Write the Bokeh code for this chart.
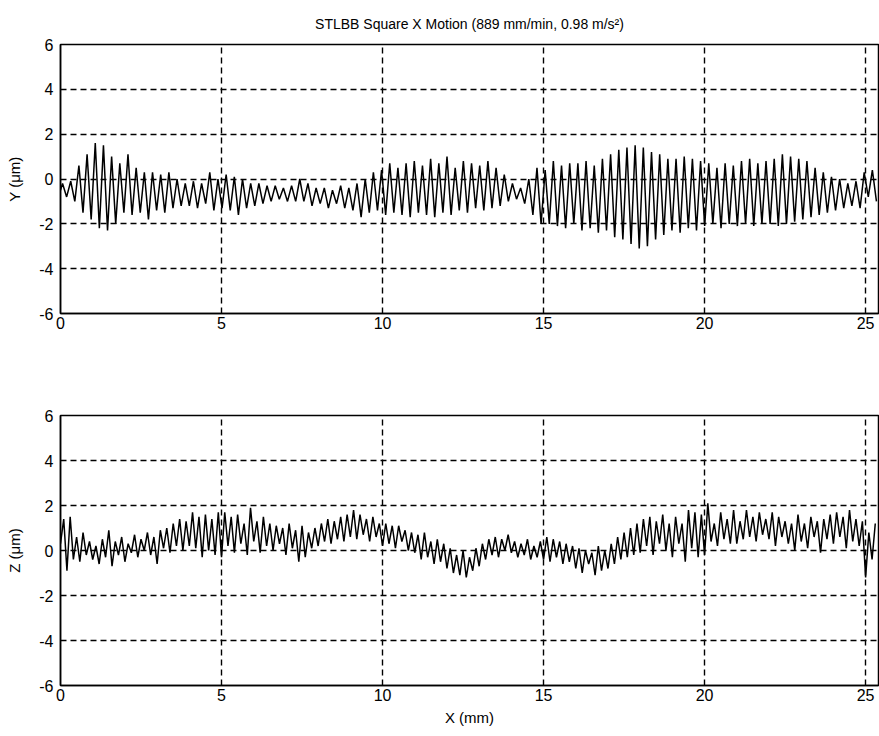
import numpy as np
from bokeh.plotting import figure
from bokeh.layouts import column
from bokeh.models import Range1d, FixedTicker
from bokeh.embed import file_html
from bokeh.resources import INLINE

title_text = "STLBB Square X Motion (889 mm/min, 0.98 m/s\u00b2)"
x_max = 25.4
x_ticks = [0, 5, 10, 15, 20, 25]
y_ticks = [-6, -4, -2, 0, 2, 4, 6]

# Y trace: one peak and one trough per oscillation cycle (cycle length in mm)
cycle_len = 0.254
y_start = -0.5
y_peaks = [
    -0.2, -0.1, 0.6, 1.1, 1.6, 1.5, 1.0, 0.7, 1.1, 0.5,
    0.3, 0.3, 0.2, 0.3, 0.0, -0.2, -0.1, -0.2, 0.3, 0.0,
    0.2, 0.1, 0.0, -0.2, -0.2, -0.3, -0.3, -0.4, -0.3, 0.0,
    -0.2, -0.4, -0.4, -0.5, -0.3, -0.4, -0.2, 0.0, 0.3, 0.4,
    0.7, 0.5, 0.7, 0.8, 0.6, 0.9, 0.7, 1.0, 0.5, 0.8,
    0.7, 0.6, 0.8, 0.5, 0.2, -0.2, -0.4, 0.0, 0.5, 0.4,
    0.8, 0.6, 0.7, 0.7, 0.8, 0.6, 0.9, 1.1, 1.3, 1.4,
    1.5, 1.4, 1.2, 1.1, 0.9, 0.9, 1.0, 0.9, 0.8, 0.7,
    0.5, 0.7, 0.6, 0.8, 0.9, 0.7, 0.8, 0.9, 1.1, 1.0,
    0.9, 0.8, 0.5, 0.3, 0.1, 0.0, -0.2, -0.1, 0.3, 0.4,
]
y_troughs = [
    -0.8, -1.0, -1.5, -1.8, -2.2, -2.3, -2.0, -1.5, -1.6, -1.5,
    -1.8, -1.4, -1.5, -1.3, -1.2, -1.2, -1.3, -1.1, -1.4, -1.3,
    -1.4, -1.6, -1.3, -1.2, -1.1, -1.0, -0.9, -1.0, -1.0, -1.0,
    -1.2, -1.1, -1.3, -1.1, -1.3, -1.4, -1.7, -1.5, -1.4, -1.6,
    -1.5, -1.6, -1.7, -1.5, -1.6, -1.7, -1.5, -1.6, -1.4, -1.5,
    -1.3, -1.4, -1.3, -1.2, -1.0, -0.9, -1.1, -1.6, -2.0, -2.0,
    -2.1, -2.2, -2.0, -2.3, -2.2, -2.4, -2.3, -2.6, -2.7, -2.9,
    -3.1, -3.0, -2.7, -2.5, -2.3, -2.4, -2.2, -2.3, -2.1, -2.0,
    -2.2, -2.0, -2.1, -2.0, -2.1, -2.0, -2.0, -2.1, -2.0, -1.9,
    -1.8, -1.7, -1.6, -1.5, -1.4, -1.3, -1.2, -1.3, -0.8, -1.0,
]

# Z trace: samples every z_step mm
z_step = 0.1
z_values = [
    0.3, 1.4, -0.9, 1.5, -0.4, 0.6, -0.5, 0.8, -0.2, 0.4,
    -0.4, 0.2, -0.6, 0.5, -0.3, 0.9, -0.7, 0.4, -0.2, 0.6,
    -0.5, 0.3, -0.1, 0.7, -0.3, 0.5, 0.0, 0.8, -0.2, 0.6,
    -0.6, 0.9, 0.1, 1.0, -0.1, 1.2, 0.2, 1.4, 0.0, 1.3,
    0.2, 1.7, 0.1, 1.5, -0.3, 1.6, 0.0, 1.4, -0.2, 1.7,
    -0.3, 1.7, 0.2, 1.5, -0.1, 1.6, 0.3, 1.2, -0.2, 1.9,
    0.4, 1.3, -0.1, 1.5, 0.2, 1.2, 0.0, 1.1, 0.3, 1.0,
    -0.2, 1.2, 0.1, 0.9, -0.5, 1.1, -0.3, 0.8, 0.1, 1.0,
    0.2, 1.2, 0.4, 1.4, 0.3, 1.3, 0.5, 1.5, 0.4, 1.6,
    0.6, 1.8, 0.5, 1.6, 0.7, 1.4, 0.4, 1.5, 0.6, 1.2,
    0.2, 1.2, 0.3, 1.1, 0.1, 1.1, 0.4, 0.9, 0.0, 0.8,
    -0.1, 0.7, -0.4, 0.8, -0.3, 0.4, -0.6, 0.5, -0.5, 0.3,
    -0.8, 0.1, -1.0, -0.2, -1.1, 0.0, -1.2, -0.3, -0.9, 0.1,
    -0.7, 0.3, -0.4, 0.5, -0.2, 0.6, -0.3, 0.5, 0.0, 0.7,
    -0.1, 0.4, -0.3, 0.3, -0.2, 0.5, -0.4, 0.2, -0.3, 0.4,
    -0.4, 0.6, -0.5, 0.5, -0.3, 0.4, -0.6, 0.3, -0.5, 0.2,
    -0.8, 0.1, -1.0, 0.0, -0.6, -0.1, -1.1, 0.2, -0.9, 0.0,
    -0.8, 0.3, -0.6, 0.6, -0.4, 0.8, -0.3, 1.0, -0.2, 1.2,
    -0.1, 1.4, 0.2, 1.5, -0.2, 1.3, 0.3, 1.6, 0.0, 1.2,
    -0.3, 1.5, 0.3, 1.2, -0.5, 1.8, 0.1, 1.7, -0.3, 1.6,
    -0.2, 2.1, 0.4, 1.2, 0.2, 1.7, 0.5, 1.4, 0.3, 1.8,
    0.3, 1.3, 0.5, 1.8, 0.6, 1.5, 0.4, 1.7, 0.7, 1.4,
    0.5, 1.7, 0.2, 1.5, 0.6, 1.3, 0.3, 1.2, 0.0, 1.6,
    0.4, 1.2, 0.1, 1.5, 0.6, 1.3, -0.1, 1.4, 0.5, 1.6,
    0.3, 1.7, 0.6, 1.5, 0.1, 1.8, 0.4, 1.4, 0.2, 1.3,
    -1.2, 0.8, -0.4, 1.2,
]

# build the traces from the sample grid
yx = [0.0]
yy = [y_start]
for k, (pk, tr) in enumerate(zip(y_peaks, y_troughs)):
    yx += [k * cycle_len + 0.25 * cycle_len, k * cycle_len + 0.75 * cycle_len]
    yy += [pk, tr]
zx = [i * z_step for i in range(len(z_values))]

FONT = "Liberation Sans"


def style(p, ylabel, xlabel=None):
    p.x_range = Range1d(0, x_max)
    p.y_range = Range1d(-6, 6)
    p.outline_line_color = "black"
    p.outline_line_width = 1.5
    p.background_fill_color = "white"
    p.border_fill_color = "white"
    for ax in (p.xaxis[0], p.yaxis[0]):
        ax.axis_line_color = "black"
        ax.axis_line_width = 1.5
        ax.major_tick_in = 5
        ax.major_tick_out = 0
        ax.minor_tick_line_color = None
        ax.major_tick_line_color = "black"
        ax.major_label_text_font = FONT
        ax.major_label_text_font_size = "16px"
        ax.major_label_text_color = "black"
        ax.axis_label_text_font = FONT
        ax.axis_label_text_font_size = "15px"
        ax.axis_label_text_font_style = "normal"
        ax.axis_label_text_color = "black"
    p.xaxis.ticker = FixedTicker(ticks=x_ticks)
    p.yaxis.ticker = FixedTicker(ticks=y_ticks)
    p.xaxis.major_label_overrides = {t: str(t) for t in x_ticks}
    p.yaxis.major_label_overrides = {t: str(t) for t in y_ticks}
    p.xaxis.major_label_standoff = 3
    p.yaxis.major_label_standoff = 7
    p.yaxis.axis_label = ylabel
    p.yaxis.axis_label_standoff = 13
    if xlabel:
        p.xaxis.axis_label = xlabel
        p.xaxis.axis_label_standoff = 5
    for g in (p.xgrid[0], p.ygrid[0]):
        g.grid_line_color = "black"
        g.grid_line_dash = "6 4"
        g.grid_line_width = 1.4


p1 = figure(width=879, height=365, output_backend="svg", toolbar_location=None,
            min_border_left=60, min_border_right=1, min_border_top=43, min_border_bottom=52)
p1.title.text = title_text
p1.title.align = "center"
p1.title.text_font = FONT
p1.title.text_font_size = "14px"
p1.title.text_font_style = "normal"
p1.title.text_color = "black"
p1.title.standoff = 26
style(p1, "Y (\u03bcm)")
p1.line(yx, yy, line_color="black", line_width=1.5)

p2 = figure(width=879, height=371, output_backend="svg", toolbar_location=None,
            min_border_left=60, min_border_right=1, min_border_top=50, min_border_bottom=51)
style(p2, "Z (\u03bcm)", "X (mm)")
p2.line(zx, z_values, line_color="black", line_width=1.5)

layout = column(p1, p2, spacing=0)
open("out.html", "w").write(file_html(layout, INLINE))
